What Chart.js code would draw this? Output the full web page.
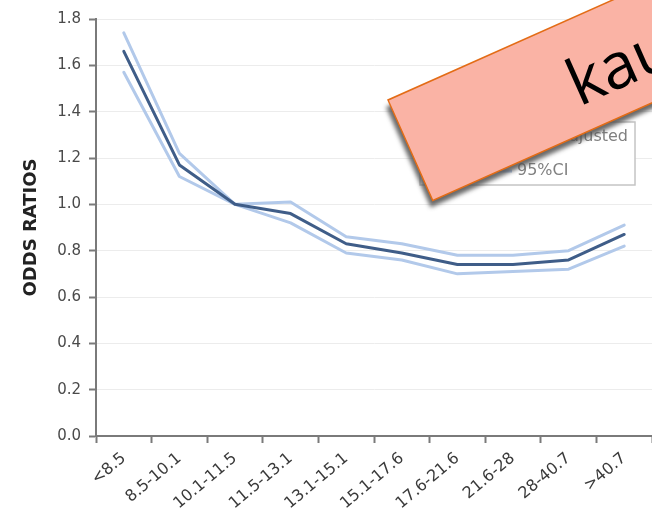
<!DOCTYPE html>
<html>
<head>
<meta charset="utf-8">
<script src="https://cdn.jsdelivr.net/npm/chart.js@4/dist/chart.umd.min.js"></script>
<style>
  html, body { margin: 0; padding: 0; background: #ffffff; }
  #wrap { width: 652px; height: 515px; }
</style>
</head>
<body>
<div id="wrap"><canvas id="chart" width="652" height="515"></canvas></div>
<script>
// Body-size categories along the x axis
const categories = ['<8.5', '8.5-10.1', '10.1-11.5', '11.5-13.1', '13.1-15.1',
                    '15.1-17.6', '17.6-21.6', '21.6-28', '28-40.7', '>40.7'];

// Adjusted odds ratios and their 95% confidence limits
const adjusted = [1.66, 1.17, 1.00, 0.96, 0.83, 0.79, 0.74, 0.74, 0.76, 0.87];
const ciUpper  = [1.74, 1.22, 1.00, 1.01, 0.86, 0.83, 0.78, 0.78, 0.80, 0.91];
const ciLower  = [1.57, 1.12, 1.00, 0.92, 0.79, 0.76, 0.70, 0.71, 0.72, 0.82];

// Y axis range and tick step
const yMin = 0;
const yMax = 1.8;
const yStep = 0.2;

const seriesLabels = ['Adjusted', '95%CI'];
const bannerText = 'kau';

const mainColor = '#3f5d88';
const ciColor = '#b2c9ea';
const axisColor = '#7a7a7a';

// white page background
const backgroundPlugin = {
  id: 'pageBackground',
  beforeDraw(chart) {
    const ctx = chart.ctx;
    ctx.save();
    ctx.fillStyle = '#ffffff';
    ctx.fillRect(0, 0, chart.width, chart.height);
    ctx.restore();
  }
};

// boxed legend inside the plot, with a tilted label banner drawn on top
const overlayPlugin = {
  id: 'legendAndBanner',
  afterDraw(chart) {
    const ctx = chart.ctx;
    const ds = chart.data.datasets;

    // legend box
    ctx.save();
    ctx.fillStyle = '#ffffff';
    ctx.strokeStyle = '#c4c4c4';
    ctx.lineWidth = 1.5;
    ctx.fillRect(420, 122, 215, 63);
    ctx.strokeRect(420, 122, 215, 63);
    ctx.font = '16px "DejaVu Sans", sans-serif';
    ctx.textBaseline = 'middle';
    ctx.fillStyle = '#808080';
    const rows = [
      { label: seriesLabels[0], color: ds[0].borderColor, width: 3, textX: 558, y: 137 },
      { label: seriesLabels[1], color: ds[1].borderColor, width: 3, textX: 517, y: 171 }
    ];
    rows.forEach(r => {
      ctx.strokeStyle = r.color;
      ctx.lineWidth = r.width;
      ctx.beginPath();
      ctx.moveTo(r.textX - 40, r.y);
      ctx.lineTo(r.textX - 5, r.y);
      ctx.stroke();
      ctx.fillText(r.label, r.textX, r.y);
    });
    ctx.restore();

    // tilted banner
    ctx.save();
    ctx.translate(388, 100);
    ctx.rotate(-24 * Math.PI / 180);
    ctx.save();
    ctx.shadowColor = 'rgba(80, 80, 80, 0.85)';
    ctx.shadowBlur = 4;
    ctx.shadowOffsetX = -2;
    ctx.shadowOffsetY = 7;
    ctx.fillStyle = '#fab3a5';
    ctx.fillRect(0, 0, 640, 110);
    ctx.restore();
    ctx.strokeStyle = '#e36c16';
    ctx.lineWidth = 1.5;
    ctx.strokeRect(0, 0, 640, 110);
    ctx.fillStyle = '#000000';
    ctx.font = '64px "Open Sans", "Noto Sans", sans-serif';
    ctx.textBaseline = 'alphabetic';
    ctx.fillText(bannerText, 172, 84);
    ctx.restore();
  }
};

new Chart(document.getElementById('chart'), {
  type: 'line',
  data: {
    labels: categories,
    datasets: [
      {
        label: seriesLabels[0],
        data: adjusted,
        borderColor: mainColor,
        borderWidth: 3,
        pointRadius: 0,
        tension: 0,
        order: 0
      },
      {
        label: seriesLabels[1],
        data: ciUpper,
        borderColor: ciColor,
        borderWidth: 3,
        pointRadius: 0,
        tension: 0,
        order: 1
      },
      {
        label: seriesLabels[1] + ' lower',
        data: ciLower,
        borderColor: ciColor,
        borderWidth: 3,
        pointRadius: 0,
        tension: 0,
        order: 1
      }
    ]
  },
  options: {
    responsive: false,
    animation: false,
    layout: { padding: { top: 19, right: 0, bottom: 0, left: 0 } },
    plugins: {
      legend: { display: false },
      tooltip: { enabled: false }
    },
    elements: { line: { borderJoinStyle: 'round', borderCapStyle: 'round' } },
    scales: {
      x: {
        offset: true,
        grid: {
          offset: true,
          drawOnChartArea: false,
          drawTicks: true,
          tickLength: 7,
          tickColor: axisColor,
          tickWidth: 2
        },
        border: { color: axisColor, width: 2 },
        ticks: {
          autoSkip: false,
          minRotation: 40,
          maxRotation: 40,
          padding: 6,
          color: '#3a3a3a',
          font: { family: '"DejaVu Sans", sans-serif', size: 16 }
        },
        afterFit(scale) {
          scale.height = 79;
          scale.paddingLeft = 0;
          scale.paddingRight = 0;
        }
      },
      y: {
        min: yMin,
        max: yMax,
        grid: {
          color: '#ececec',
          lineWidth: 1,
          drawTicks: true,
          tickLength: 7,
          tickColor: axisColor,
          tickWidth: 2
        },
        border: { color: axisColor, width: 2 },
        ticks: {
          stepSize: yStep,
          padding: 8,
          color: '#4a4a4a',
          font: { family: '"DejaVu Sans", sans-serif', size: 15 },
          callback: v => Number(v).toFixed(1)
        },
        title: {
          display: true,
          text: 'ODDS RATIOS',
          color: '#222222',
          font: { family: '"DejaVu Sans", sans-serif', size: 18, weight: 'bold' },
          padding: { top: 21, bottom: 0 }
        },
        afterFit(scale) {
          scale.width = 96;
          scale.paddingTop = 0;
          scale.paddingBottom = 0;
        }
      }
    }
  },
  plugins: [backgroundPlugin, overlayPlugin]
});
</script>
</body>
</html>
